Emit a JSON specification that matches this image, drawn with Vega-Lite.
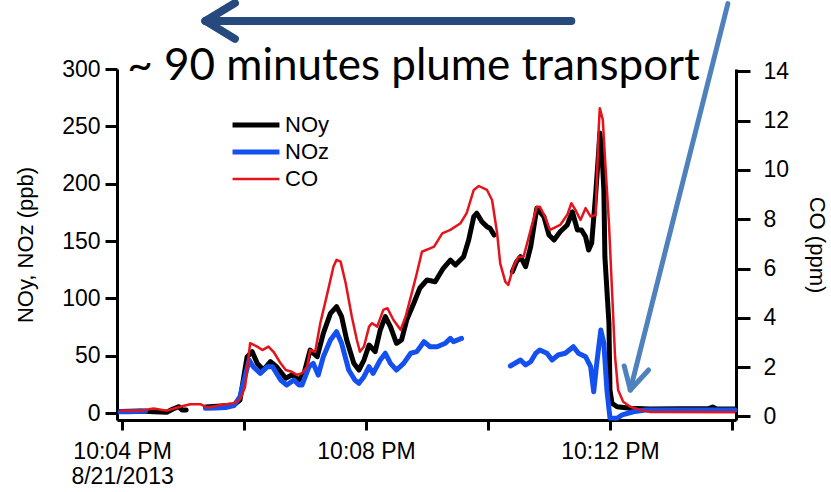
{
  "$schema": "https://vega.github.io/schema/vega-lite/v6.json",
  "width": 619,
  "height": 351,
  "autosize": {"type": "none"},
  "padding": {"left": 117, "top": 69, "right": 95, "bottom": 72},
  "background": "white",
  "config": {
    "view": {"stroke": null},
    "font": "Liberation Sans",
    "axis": {
      "grid": false,
      "domainColor": "black",
      "domainWidth": 3,
      "tickColor": "black",
      "tickWidth": 3,
      "labelColor": "black",
      "labelFont": "Liberation Sans",
      "labelFontSize": 23,
      "titleColor": "black",
      "titleFont": "Liberation Sans",
      "titleFontSize": 22,
      "titleFontWeight": "normal"
    }
  },
  "datasets": {
    "obs": [
      {"t": "2013-08-21T22:03:58", "series": "CO", "seg": 1, "v": 0.23},
      {"t": "2013-08-21T22:04:18", "series": "CO", "seg": 1, "v": 0.23},
      {"t": "2013-08-21T22:04:31", "series": "CO", "seg": 1, "v": 0.32},
      {"t": "2013-08-21T22:04:44", "series": "CO", "seg": 1, "v": 0.23},
      {"t": "2013-08-21T22:04:57", "series": "CO", "seg": 1, "v": 0.39},
      {"t": "2013-08-21T22:05:07", "series": "CO", "seg": 1, "v": 0.49},
      {"t": "2013-08-21T22:05:17", "series": "CO", "seg": 1, "v": 0.49},
      {"t": "2013-08-21T22:05:24", "series": "CO", "seg": 1, "v": 0.35},
      {"t": "2013-08-21T22:05:37", "series": "CO", "seg": 1, "v": 0.46},
      {"t": "2013-08-21T22:05:50", "series": "CO", "seg": 1, "v": 0.53},
      {"t": "2013-08-21T22:05:55", "series": "CO", "seg": 1, "v": 0.66},
      {"t": "2013-08-21T22:05:58", "series": "CO", "seg": 1, "v": 0.87},
      {"t": "2013-08-21T22:06:01", "series": "CO", "seg": 1, "v": 1.20},
      {"t": "2013-08-21T22:06:06", "series": "CO", "seg": 1, "v": 2.97},
      {"t": "2013-08-21T22:06:13", "series": "CO", "seg": 1, "v": 2.83},
      {"t": "2013-08-21T22:06:18", "series": "CO", "seg": 1, "v": 2.69},
      {"t": "2013-08-21T22:06:24", "series": "CO", "seg": 1, "v": 2.83},
      {"t": "2013-08-21T22:06:29", "series": "CO", "seg": 1, "v": 2.62},
      {"t": "2013-08-21T22:06:36", "series": "CO", "seg": 1, "v": 2.15},
      {"t": "2013-08-21T22:06:41", "series": "CO", "seg": 1, "v": 1.88},
      {"t": "2013-08-21T22:06:47", "series": "CO", "seg": 1, "v": 1.81},
      {"t": "2013-08-21T22:06:52", "series": "CO", "seg": 1, "v": 1.68},
      {"t": "2013-08-21T22:06:57", "series": "CO", "seg": 1, "v": 1.75},
      {"t": "2013-08-21T22:07:02", "series": "CO", "seg": 1, "v": 2.01},
      {"t": "2013-08-21T22:07:05", "series": "CO", "seg": 1, "v": 2.69},
      {"t": "2013-08-21T22:07:10", "series": "CO", "seg": 1, "v": 2.62},
      {"t": "2013-08-21T22:07:15", "series": "CO", "seg": 1, "v": 3.78},
      {"t": "2013-08-21T22:07:22", "series": "CO", "seg": 1, "v": 5.00},
      {"t": "2013-08-21T22:07:28", "series": "CO", "seg": 1, "v": 6.08},
      {"t": "2013-08-21T22:07:31", "series": "CO", "seg": 1, "v": 6.35},
      {"t": "2013-08-21T22:07:35", "series": "CO", "seg": 1, "v": 6.28},
      {"t": "2013-08-21T22:07:40", "series": "CO", "seg": 1, "v": 5.40},
      {"t": "2013-08-21T22:07:46", "series": "CO", "seg": 1, "v": 4.05},
      {"t": "2013-08-21T22:07:51", "series": "CO", "seg": 1, "v": 3.10},
      {"t": "2013-08-21T22:07:54", "series": "CO", "seg": 1, "v": 2.62},
      {"t": "2013-08-21T22:07:58", "series": "CO", "seg": 1, "v": 2.83},
      {"t": "2013-08-21T22:08:03", "series": "CO", "seg": 1, "v": 3.64},
      {"t": "2013-08-21T22:08:06", "series": "CO", "seg": 1, "v": 3.78},
      {"t": "2013-08-21T22:08:11", "series": "CO", "seg": 1, "v": 3.64},
      {"t": "2013-08-21T22:08:17", "series": "CO", "seg": 1, "v": 4.32},
      {"t": "2013-08-21T22:08:21", "series": "CO", "seg": 1, "v": 4.39},
      {"t": "2013-08-21T22:08:27", "series": "CO", "seg": 1, "v": 3.91},
      {"t": "2013-08-21T22:08:34", "series": "CO", "seg": 1, "v": 3.51},
      {"t": "2013-08-21T22:08:39", "series": "CO", "seg": 1, "v": 4.05},
      {"t": "2013-08-21T22:08:45", "series": "CO", "seg": 1, "v": 5.00},
      {"t": "2013-08-21T22:08:50", "series": "CO", "seg": 1, "v": 5.81},
      {"t": "2013-08-21T22:08:55", "series": "CO", "seg": 1, "v": 6.68},
      {"t": "2013-08-21T22:09:03", "series": "CO", "seg": 1, "v": 6.82},
      {"t": "2013-08-21T22:09:07", "series": "CO", "seg": 1, "v": 6.89},
      {"t": "2013-08-21T22:09:15", "series": "CO", "seg": 1, "v": 7.43},
      {"t": "2013-08-21T22:09:23", "series": "CO", "seg": 1, "v": 7.57},
      {"t": "2013-08-21T22:09:33", "series": "CO", "seg": 1, "v": 7.84},
      {"t": "2013-08-21T22:09:39", "series": "CO", "seg": 1, "v": 8.25},
      {"t": "2013-08-21T22:09:46", "series": "CO", "seg": 1, "v": 9.19},
      {"t": "2013-08-21T22:09:51", "series": "CO", "seg": 1, "v": 9.35},
      {"t": "2013-08-21T22:09:59", "series": "CO", "seg": 1, "v": 9.19},
      {"t": "2013-08-21T22:10:04", "series": "CO", "seg": 1, "v": 8.78},
      {"t": "2013-08-21T22:10:09", "series": "CO", "seg": 1, "v": 7.43},
      {"t": "2013-08-21T22:10:12", "series": "CO", "seg": 1, "v": 6.21},
      {"t": "2013-08-21T22:10:17", "series": "CO", "seg": 1, "v": 5.47},
      {"t": "2013-08-21T22:10:20", "series": "CO", "seg": 1, "v": 5.33},
      {"t": "2013-08-21T22:10:25", "series": "CO", "seg": 1, "v": 6.08},
      {"t": "2013-08-21T22:10:30", "series": "CO", "seg": 1, "v": 6.48},
      {"t": "2013-08-21T22:10:35", "series": "CO", "seg": 1, "v": 6.48},
      {"t": "2013-08-21T22:10:42", "series": "CO", "seg": 1, "v": 7.57},
      {"t": "2013-08-21T22:10:48", "series": "CO", "seg": 1, "v": 8.51},
      {"t": "2013-08-21T22:10:51", "series": "CO", "seg": 1, "v": 8.51},
      {"t": "2013-08-21T22:10:56", "series": "CO", "seg": 1, "v": 8.11},
      {"t": "2013-08-21T22:11:01", "series": "CO", "seg": 1, "v": 7.57},
      {"t": "2013-08-21T22:11:11", "series": "CO", "seg": 1, "v": 7.77},
      {"t": "2013-08-21T22:11:18", "series": "CO", "seg": 1, "v": 8.18},
      {"t": "2013-08-21T22:11:22", "series": "CO", "seg": 1, "v": 8.65},
      {"t": "2013-08-21T22:11:26", "series": "CO", "seg": 1, "v": 8.38},
      {"t": "2013-08-21T22:11:31", "series": "CO", "seg": 1, "v": 7.97},
      {"t": "2013-08-21T22:11:36", "series": "CO", "seg": 1, "v": 8.45},
      {"t": "2013-08-21T22:11:41", "series": "CO", "seg": 1, "v": 8.11},
      {"t": "2013-08-21T22:11:46", "series": "CO", "seg": 1, "v": 8.18},
      {"t": "2013-08-21T22:11:47", "series": "CO", "seg": 1, "v": 9.46},
      {"t": "2013-08-21T22:11:49", "series": "CO", "seg": 1, "v": 11.76},
      {"t": "2013-08-21T22:11:50", "series": "CO", "seg": 1, "v": 12.51},
      {"t": "2013-08-21T22:11:53", "series": "CO", "seg": 1, "v": 12.03},
      {"t": "2013-08-21T22:11:55", "series": "CO", "seg": 1, "v": 10.54},
      {"t": "2013-08-21T22:11:59", "series": "CO", "seg": 1, "v": 7.84},
      {"t": "2013-08-21T22:12:02", "series": "CO", "seg": 1, "v": 5.13},
      {"t": "2013-08-21T22:12:05", "series": "CO", "seg": 1, "v": 2.42},
      {"t": "2013-08-21T22:12:08", "series": "CO", "seg": 1, "v": 1.07},
      {"t": "2013-08-21T22:12:13", "series": "CO", "seg": 1, "v": 0.59},
      {"t": "2013-08-21T22:12:20", "series": "CO", "seg": 1, "v": 0.39},
      {"t": "2013-08-21T22:12:30", "series": "CO", "seg": 1, "v": 0.26},
      {"t": "2013-08-21T22:12:40", "series": "CO", "seg": 1, "v": 0.17},
      {"t": "2013-08-21T22:14:03", "series": "CO", "seg": 1, "v": 0.16},

      {"t": "2013-08-21T22:03:58", "series": "NOy", "seg": 1, "v": 1.3},
      {"t": "2013-08-21T22:04:18", "series": "NOy", "seg": 1, "v": 1.7},
      {"t": "2013-08-21T22:04:31", "series": "NOy", "seg": 1, "v": 1.1},
      {"t": "2013-08-21T22:04:44", "series": "NOy", "seg": 1, "v": 0.6},
      {"t": "2013-08-21T22:04:50", "series": "NOy", "seg": 1, "v": 3.5},
      {"t": "2013-08-21T22:04:56", "series": "NOy", "seg": 1, "v": 5.5},
      {"t": "2013-08-21T22:04:59", "series": "NOy", "seg": 1, "v": 2.6},
      {"t": "2013-08-21T22:05:03", "series": "NOy", "seg": 1, "v": 2.6},
      {"t": "2013-08-21T22:05:22", "series": "NOy", "seg": 2, "v": 5.2},
      {"t": "2013-08-21T22:05:37", "series": "NOy", "seg": 2, "v": 6.1},
      {"t": "2013-08-21T22:05:50", "series": "NOy", "seg": 2, "v": 7.0},
      {"t": "2013-08-21T22:05:56", "series": "NOy", "seg": 2, "v": 11.3},
      {"t": "2013-08-21T22:06:03", "series": "NOy", "seg": 2, "v": 49.1},
      {"t": "2013-08-21T22:06:08", "series": "NOy", "seg": 2, "v": 53.5},
      {"t": "2013-08-21T22:06:13", "series": "NOy", "seg": 2, "v": 43.3},
      {"t": "2013-08-21T22:06:19", "series": "NOy", "seg": 2, "v": 37.5},
      {"t": "2013-08-21T22:06:26", "series": "NOy", "seg": 2, "v": 44.7},
      {"t": "2013-08-21T22:06:32", "series": "NOy", "seg": 2, "v": 40.4},
      {"t": "2013-08-21T22:06:41", "series": "NOy", "seg": 2, "v": 30.3},
      {"t": "2013-08-21T22:06:47", "series": "NOy", "seg": 2, "v": 33.1},
      {"t": "2013-08-21T22:06:54", "series": "NOy", "seg": 2, "v": 28.8},
      {"t": "2013-08-21T22:06:59", "series": "NOy", "seg": 2, "v": 34.6},
      {"t": "2013-08-21T22:07:05", "series": "NOy", "seg": 2, "v": 54.9},
      {"t": "2013-08-21T22:07:12", "series": "NOy", "seg": 2, "v": 49.1},
      {"t": "2013-08-21T22:07:18", "series": "NOy", "seg": 2, "v": 69.5},
      {"t": "2013-08-21T22:07:25", "series": "NOy", "seg": 2, "v": 86.9},
      {"t": "2013-08-21T22:07:31", "series": "NOy", "seg": 2, "v": 92.7},
      {"t": "2013-08-21T22:07:36", "series": "NOy", "seg": 2, "v": 84.0},
      {"t": "2013-08-21T22:07:41", "series": "NOy", "seg": 2, "v": 63.7},
      {"t": "2013-08-21T22:07:48", "series": "NOy", "seg": 2, "v": 43.3},
      {"t": "2013-08-21T22:07:53", "series": "NOy", "seg": 2, "v": 37.5},
      {"t": "2013-08-21T22:07:58", "series": "NOy", "seg": 2, "v": 46.2},
      {"t": "2013-08-21T22:08:03", "series": "NOy", "seg": 2, "v": 59.3},
      {"t": "2013-08-21T22:08:09", "series": "NOy", "seg": 2, "v": 53.5},
      {"t": "2013-08-21T22:08:14", "series": "NOy", "seg": 2, "v": 72.4},
      {"t": "2013-08-21T22:08:19", "series": "NOy", "seg": 2, "v": 84.0},
      {"t": "2013-08-21T22:08:24", "series": "NOy", "seg": 2, "v": 75.3},
      {"t": "2013-08-21T22:08:30", "series": "NOy", "seg": 2, "v": 60.8},
      {"t": "2013-08-21T22:08:35", "series": "NOy", "seg": 2, "v": 63.7},
      {"t": "2013-08-21T22:08:40", "series": "NOy", "seg": 2, "v": 81.1},
      {"t": "2013-08-21T22:08:47", "series": "NOy", "seg": 2, "v": 95.7},
      {"t": "2013-08-21T22:08:53", "series": "NOy", "seg": 2, "v": 109.0},
      {"t": "2013-08-21T22:09:00", "series": "NOy", "seg": 2, "v": 116.0},
      {"t": "2013-08-21T22:09:08", "series": "NOy", "seg": 2, "v": 114.5},
      {"t": "2013-08-21T22:09:16", "series": "NOy", "seg": 2, "v": 126.2},
      {"t": "2013-08-21T22:09:23", "series": "NOy", "seg": 2, "v": 133.4},
      {"t": "2013-08-21T22:09:28", "series": "NOy", "seg": 2, "v": 129.1},
      {"t": "2013-08-21T22:09:36", "series": "NOy", "seg": 2, "v": 136.3},
      {"t": "2013-08-21T22:09:41", "series": "NOy", "seg": 2, "v": 150.9},
      {"t": "2013-08-21T22:09:46", "series": "NOy", "seg": 2, "v": 171.2},
      {"t": "2013-08-21T22:09:49", "series": "NOy", "seg": 2, "v": 174.2},
      {"t": "2013-08-21T22:09:54", "series": "NOy", "seg": 2, "v": 166.8},
      {"t": "2013-08-21T22:09:59", "series": "NOy", "seg": 2, "v": 162.5},
      {"t": "2013-08-21T22:10:02", "series": "NOy", "seg": 2, "v": 161.1},
      {"t": "2013-08-21T22:10:06", "series": "NOy", "seg": 2, "v": 155.2},
      {"t": "2013-08-21T22:10:24", "series": "NOy", "seg": 3, "v": 123.2},
      {"t": "2013-08-21T22:10:28", "series": "NOy", "seg": 3, "v": 131.7},
      {"t": "2013-08-21T22:10:32", "series": "NOy", "seg": 3, "v": 136.3},
      {"t": "2013-08-21T22:10:37", "series": "NOy", "seg": 3, "v": 127.6},
      {"t": "2013-08-21T22:10:42", "series": "NOy", "seg": 3, "v": 145.0},
      {"t": "2013-08-21T22:10:48", "series": "NOy", "seg": 3, "v": 178.5},
      {"t": "2013-08-21T22:10:55", "series": "NOy", "seg": 3, "v": 171.2},
      {"t": "2013-08-21T22:11:00", "series": "NOy", "seg": 3, "v": 155.2},
      {"t": "2013-08-21T22:11:05", "series": "NOy", "seg": 3, "v": 150.9},
      {"t": "2013-08-21T22:11:11", "series": "NOy", "seg": 3, "v": 158.1},
      {"t": "2013-08-21T22:11:18", "series": "NOy", "seg": 3, "v": 164.0},
      {"t": "2013-08-21T22:11:23", "series": "NOy", "seg": 3, "v": 175.5},
      {"t": "2013-08-21T22:11:28", "series": "NOy", "seg": 3, "v": 159.6},
      {"t": "2013-08-21T22:11:32", "series": "NOy", "seg": 3, "v": 159.6},
      {"t": "2013-08-21T22:11:36", "series": "NOy", "seg": 3, "v": 153.7},
      {"t": "2013-08-21T22:11:39", "series": "NOy", "seg": 3, "v": 142.1},
      {"t": "2013-08-21T22:11:42", "series": "NOy", "seg": 3, "v": 148.0},
      {"t": "2013-08-21T22:11:46", "series": "NOy", "seg": 3, "v": 191.6},
      {"t": "2013-08-21T22:11:49", "series": "NOy", "seg": 3, "v": 229.4},
      {"t": "2013-08-21T22:11:50", "series": "NOy", "seg": 3, "v": 244.2},
      {"t": "2013-08-21T22:11:52", "series": "NOy", "seg": 3, "v": 229.4},
      {"t": "2013-08-21T22:11:54", "series": "NOy", "seg": 3, "v": 194.5},
      {"t": "2013-08-21T22:11:55", "series": "NOy", "seg": 3, "v": 136.3},
      {"t": "2013-08-21T22:11:59", "series": "NOy", "seg": 3, "v": 78.2},
      {"t": "2013-08-21T22:12:00", "series": "NOy", "seg": 3, "v": 20.1},
      {"t": "2013-08-21T22:12:02", "series": "NOy", "seg": 3, "v": 8.5},
      {"t": "2013-08-21T22:12:07", "series": "NOy", "seg": 3, "v": 5.5},
      {"t": "2013-08-21T22:12:20", "series": "NOy", "seg": 3, "v": 4.1},
      {"t": "2013-08-21T22:12:40", "series": "NOy", "seg": 3, "v": 3.5},
      {"t": "2013-08-21T22:13:37", "series": "NOy", "seg": 3, "v": 3.9},
      {"t": "2013-08-21T22:13:41", "series": "NOy", "seg": 3, "v": 5.2},
      {"t": "2013-08-21T22:13:45", "series": "NOy", "seg": 3, "v": 3.5},
      {"t": "2013-08-21T22:14:03", "series": "NOy", "seg": 3, "v": 3.5},

      {"t": "2013-08-21T22:03:58", "series": "NOz", "seg": 1, "v": 1.1},
      {"t": "2013-08-21T22:04:08", "series": "NOz", "seg": 1, "v": 1.1},
      {"t": "2013-08-21T22:04:23", "series": "NOz", "seg": 1, "v": 1.7},
      {"t": "2013-08-21T22:05:22", "series": "NOz", "seg": 2, "v": 4.1},
      {"t": "2013-08-21T22:05:32", "series": "NOz", "seg": 2, "v": 4.4},
      {"t": "2013-08-21T22:05:42", "series": "NOz", "seg": 2, "v": 4.8},
      {"t": "2013-08-21T22:05:50", "series": "NOz", "seg": 2, "v": 6.4},
      {"t": "2013-08-21T22:05:56", "series": "NOz", "seg": 2, "v": 14.2},
      {"t": "2013-08-21T22:06:05", "series": "NOz", "seg": 2, "v": 46.2},
      {"t": "2013-08-21T22:06:09", "series": "NOz", "seg": 2, "v": 40.4},
      {"t": "2013-08-21T22:06:16", "series": "NOz", "seg": 2, "v": 34.6},
      {"t": "2013-08-21T22:06:23", "series": "NOz", "seg": 2, "v": 40.4},
      {"t": "2013-08-21T22:06:28", "series": "NOz", "seg": 2, "v": 40.4},
      {"t": "2013-08-21T22:06:36", "series": "NOz", "seg": 2, "v": 28.8},
      {"t": "2013-08-21T22:06:42", "series": "NOz", "seg": 2, "v": 24.4},
      {"t": "2013-08-21T22:06:49", "series": "NOz", "seg": 2, "v": 28.8},
      {"t": "2013-08-21T22:06:54", "series": "NOz", "seg": 2, "v": 24.4},
      {"t": "2013-08-21T22:06:57", "series": "NOz", "seg": 2, "v": 24.4},
      {"t": "2013-08-21T22:07:04", "series": "NOz", "seg": 2, "v": 40.4},
      {"t": "2013-08-21T22:07:08", "series": "NOz", "seg": 2, "v": 43.3},
      {"t": "2013-08-21T22:07:13", "series": "NOz", "seg": 2, "v": 33.1},
      {"t": "2013-08-21T22:07:18", "series": "NOz", "seg": 2, "v": 49.1},
      {"t": "2013-08-21T22:07:25", "series": "NOz", "seg": 2, "v": 63.7},
      {"t": "2013-08-21T22:07:31", "series": "NOz", "seg": 2, "v": 70.9},
      {"t": "2013-08-21T22:07:36", "series": "NOz", "seg": 2, "v": 60.8},
      {"t": "2013-08-21T22:07:43", "series": "NOz", "seg": 2, "v": 37.5},
      {"t": "2013-08-21T22:07:49", "series": "NOz", "seg": 2, "v": 28.8},
      {"t": "2013-08-21T22:07:53", "series": "NOz", "seg": 2, "v": 25.9},
      {"t": "2013-08-21T22:07:58", "series": "NOz", "seg": 2, "v": 31.7},
      {"t": "2013-08-21T22:08:03", "series": "NOz", "seg": 2, "v": 40.4},
      {"t": "2013-08-21T22:08:07", "series": "NOz", "seg": 2, "v": 34.6},
      {"t": "2013-08-21T22:08:14", "series": "NOz", "seg": 2, "v": 46.2},
      {"t": "2013-08-21T22:08:19", "series": "NOz", "seg": 2, "v": 52.1},
      {"t": "2013-08-21T22:08:24", "series": "NOz", "seg": 2, "v": 43.3},
      {"t": "2013-08-21T22:08:30", "series": "NOz", "seg": 2, "v": 37.5},
      {"t": "2013-08-21T22:08:37", "series": "NOz", "seg": 2, "v": 43.3},
      {"t": "2013-08-21T22:08:44", "series": "NOz", "seg": 2, "v": 52.1},
      {"t": "2013-08-21T22:08:50", "series": "NOz", "seg": 2, "v": 53.5},
      {"t": "2013-08-21T22:08:57", "series": "NOz", "seg": 2, "v": 62.2},
      {"t": "2013-08-21T22:09:03", "series": "NOz", "seg": 2, "v": 57.8},
      {"t": "2013-08-21T22:09:10", "series": "NOz", "seg": 2, "v": 57.8},
      {"t": "2013-08-21T22:09:18", "series": "NOz", "seg": 2, "v": 60.8},
      {"t": "2013-08-21T22:09:23", "series": "NOz", "seg": 2, "v": 65.1},
      {"t": "2013-08-21T22:09:26", "series": "NOz", "seg": 2, "v": 62.2},
      {"t": "2013-08-21T22:09:34", "series": "NOz", "seg": 2, "v": 65.1},
      {"t": "2013-08-21T22:10:22", "series": "NOz", "seg": 3, "v": 41.0},
      {"t": "2013-08-21T22:10:32", "series": "NOz", "seg": 3, "v": 46.2},
      {"t": "2013-08-21T22:10:37", "series": "NOz", "seg": 3, "v": 41.9},
      {"t": "2013-08-21T22:10:42", "series": "NOz", "seg": 3, "v": 44.7},
      {"t": "2013-08-21T22:10:47", "series": "NOz", "seg": 3, "v": 52.1},
      {"t": "2013-08-21T22:10:51", "series": "NOz", "seg": 3, "v": 54.9},
      {"t": "2013-08-21T22:10:58", "series": "NOz", "seg": 3, "v": 52.1},
      {"t": "2013-08-21T22:11:03", "series": "NOz", "seg": 3, "v": 46.2},
      {"t": "2013-08-21T22:11:09", "series": "NOz", "seg": 3, "v": 50.6},
      {"t": "2013-08-21T22:11:16", "series": "NOz", "seg": 3, "v": 52.1},
      {"t": "2013-08-21T22:11:24", "series": "NOz", "seg": 3, "v": 57.8},
      {"t": "2013-08-21T22:11:29", "series": "NOz", "seg": 3, "v": 52.1},
      {"t": "2013-08-21T22:11:36", "series": "NOz", "seg": 3, "v": 49.1},
      {"t": "2013-08-21T22:11:41", "series": "NOz", "seg": 3, "v": 40.4},
      {"t": "2013-08-21T22:11:44", "series": "NOz", "seg": 3, "v": 18.6},
      {"t": "2013-08-21T22:11:47", "series": "NOz", "seg": 3, "v": 43.3},
      {"t": "2013-08-21T22:11:51", "series": "NOz", "seg": 3, "v": 72.4},
      {"t": "2013-08-21T22:11:54", "series": "NOz", "seg": 3, "v": 60.8},
      {"t": "2013-08-21T22:11:57", "series": "NOz", "seg": 3, "v": 20.1},
      {"t": "2013-08-21T22:12:00", "series": "NOz", "seg": 3, "v": -4.4},
      {"t": "2013-08-21T22:12:02", "series": "NOz", "seg": 3, "v": -4.4},
      {"t": "2013-08-21T22:12:07", "series": "NOz", "seg": 3, "v": -4.6},
      {"t": "2013-08-21T22:12:12", "series": "NOz", "seg": 3, "v": -1.7},
      {"t": "2013-08-21T22:12:23", "series": "NOz", "seg": 3, "v": 1.1},
      {"t": "2013-08-21T22:12:35", "series": "NOz", "seg": 3, "v": 2.6},
      {"t": "2013-08-21T22:14:03", "series": "NOz", "seg": 3, "v": 2.6}
    ],
    "arrows": [
      {"arrow": "transport", "t": "2013-08-21T22:11:22", "v": 341.9, "t2": "2013-08-21T22:05:22", "v2": 341.9},
      {"arrow": "transport", "t": "2013-08-21T22:05:51", "v": 357.5, "t2": "2013-08-21T22:05:22", "v2": 341.9},
      {"arrow": "transport", "t": "2013-08-21T22:05:51", "v": 326.3, "t2": "2013-08-21T22:05:22", "v2": 341.9},
      {"arrow": "arrival", "t": "2013-08-21T22:13:56", "v": 357.0, "t2": "2013-08-21T22:12:20", "v2": 20.1},
      {"arrow": "arrival", "t": "2013-08-21T22:12:14", "v": 41.0, "t2": "2013-08-21T22:12:20", "v2": 20.1},
      {"arrow": "arrival", "t": "2013-08-21T22:12:38", "v": 37.5, "t2": "2013-08-21T22:12:20", "v2": 20.1}
    ],
    "notes": [
      {"t": "2013-08-21T22:04:05", "v": 290.4, "label": "~ 90 minutes plume transport"}
    ]
  },
  "encoding": {
    "x": {
      "field": "t",
      "type": "temporal",
      "scale": {
        "domain": [
          {"year": 2013, "month": 8, "date": 21, "hours": 22, "minutes": 3, "seconds": 55},
          {"year": 2013, "month": 8, "date": 21, "hours": 22, "minutes": 14, "seconds": 4}
        ]
      },
      "axis": {
        "title": null,
        "values": [
          {"year": 2013, "month": 8, "date": 21, "hours": 22, "minutes": 4},
          {"year": 2013, "month": 8, "date": 21, "hours": 22, "minutes": 6},
          {"year": 2013, "month": 8, "date": 21, "hours": 22, "minutes": 8},
          {"year": 2013, "month": 8, "date": 21, "hours": 22, "minutes": 10},
          {"year": 2013, "month": 8, "date": 21, "hours": 22, "minutes": 12},
          {"year": 2013, "month": 8, "date": 21, "hours": 22, "minutes": 14}
        ],
        "labelExpr": "minutes(datum.value) == 4 ? [timeFormat(datum.value, '%-I:%M %p'), timeFormat(datum.value, '%-m/%-d/%Y')] : (minutes(datum.value) % 4 == 0 ? timeFormat(datum.value, '%-I:%M %p') : '')",
        "labelFlush": false,
        "labelOverlap": false,
        "labelLineHeight": 25,
        "tickSize": 10,
        "labelPadding": 10
      }
    }
  },
  "layer": [
    {
      "layer": [
        {
          "data": {"name": "obs"},
          "transform": [{"filter": "datum.series === 'NOy'"}],
          "mark": {"type": "line", "strokeWidth": 5, "strokeJoin": "round", "strokeCap": "round"},
          "encoding": {
            "y": {
              "field": "v",
              "type": "quantitative",
              "title": "NOy, NOz (ppb)",
              "scale": {"domain": [-6.1, 300], "nice": false, "zero": false},
              "axis": {
                "values": [0, 50, 100, 150, 200, 250, 300],
                "tickSize": 12,
                "labelPadding": 5,
                "titlePadding": 24
              }
            },
            "color": {
              "field": "series",
              "type": "nominal",
              "scale": {"domain": ["NOy", "NOz", "CO"], "range": ["#000000", "#1450f0", "#e4141c"]},
              "legend": {
                "title": null,
                "orient": "none",
                "legendX": 128,
                "legendY": 45,
                "symbolType": "stroke",
                "symbolSize": 2200,
                "labelFont": "Liberation Sans",
                "labelFontSize": 22,
                "labelColor": "black",
                "labelOffset": 18,
                "rowPadding": 5,
                "encode": {
                  "symbols": {"update": {"strokeWidth": {"signal": "datum.value === 'CO' ? 2.5 : 5"}}}
                }
              }
            },
            "detail": {"field": "seg", "type": "nominal"}
          }
        },
        {
          "data": {"name": "obs"},
          "transform": [{"filter": "datum.series === 'NOz'"}],
          "mark": {"type": "line", "strokeWidth": 5, "strokeJoin": "round", "strokeCap": "round"},
          "encoding": {
            "y": {"field": "v", "type": "quantitative", "title": "NOy, NOz (ppb)"},
            "color": {"field": "series", "type": "nominal"},
            "detail": {"field": "seg", "type": "nominal"}
          }
        },
        {
          "data": {"name": "arrows"},
          "transform": [{"filter": "datum.arrow === 'transport'"}],
          "mark": {"type": "rule", "color": "#264a7e", "strokeWidth": 8, "strokeCap": "round", "clip": false},
          "encoding": {
            "x2": {"field": "t2"},
            "y": {"field": "v", "type": "quantitative", "title": "NOy, NOz (ppb)"},
            "y2": {"field": "v2"}
          }
        },
        {
          "data": {"name": "arrows"},
          "transform": [{"filter": "datum.arrow === 'arrival'"}],
          "mark": {"type": "rule", "color": "#4f81bd", "strokeWidth": 5, "strokeCap": "round", "clip": false},
          "encoding": {
            "x2": {"field": "t2"},
            "y": {"field": "v", "type": "quantitative", "title": "NOy, NOz (ppb)"},
            "y2": {"field": "v2"}
          }
        },
        {
          "data": {"name": "notes"},
          "mark": {"type": "text", "font": "Lato", "fontSize": 44, "align": "left", "baseline": "alphabetic", "color": "black", "clip": false},
          "encoding": {
            "y": {"field": "v", "type": "quantitative", "title": "NOy, NOz (ppb)"},
            "text": {"field": "label", "type": "nominal"}
          }
        }
      ]
    },
    {
      "data": {"name": "obs"},
      "transform": [{"filter": "datum.series === 'CO'"}],
      "mark": {"type": "line", "strokeWidth": 2.5, "strokeJoin": "round"},
      "encoding": {
        "y": {
          "field": "v",
          "type": "quantitative",
          "title": "CO (ppm)",
          "scale": {"domain": [-0.15, 14.1], "nice": false, "zero": false},
          "axis": {
            "orient": "right",
            "values": [0, 2, 4, 6, 8, 10, 12, 14],
            "tickSize": 14,
            "labelPadding": 13,
            "titlePadding": 16
          }
        },
        "color": {"field": "series", "type": "nominal"},
        "detail": {"field": "seg", "type": "nominal"}
      }
    }
  ],
  "resolve": {"scale": {"y": "independent"}}
}
